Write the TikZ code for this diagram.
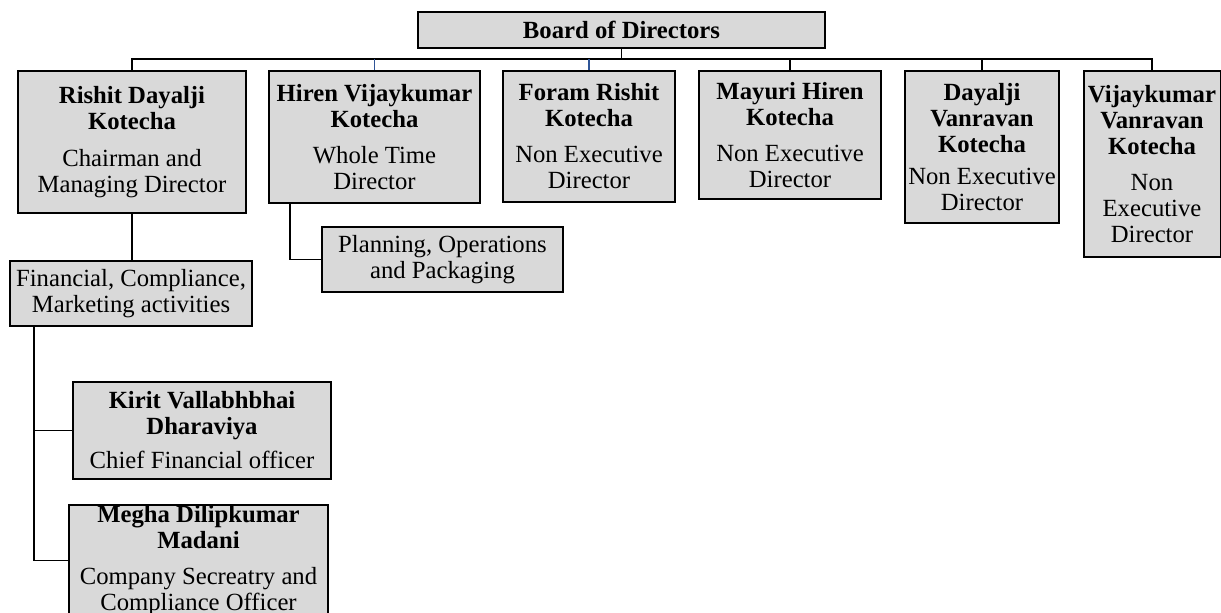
\documentclass[tikz,border=0pt]{standalone}
\usepackage{fontspec}
\setmainfont{Liberation Serif}
\usetikzlibrary{calc}
\definecolor{boxgray}{HTML}{D9D9D9}
\definecolor{linkblue}{HTML}{2F5597}
\newcommand\chartfont{\fontsize{24.7}{26}\selectfont}
\tikzset{
  box/.style={draw=black, line width=2pt, fill=boxgray, inner sep=0pt, align=center, font=\chartfont},
  conn/.style={draw=black, line width=1.8pt},
  blueconn/.style={draw=linkblue, line width=1.6pt}
}
\begin{document}
\begin{tikzpicture}[x=1pt,y=-1pt]
\useasboundingbox (0,0) rectangle (1221,613);
\clip (0,0) rectangle (1221,613);
\coordinate (bus) at (0,59);

\node[box, minimum width=407pt, minimum height=36pt] (board) at (621.5,30) {\textbf{Board of Directors}};

\node[box, minimum width=228pt, minimum height=142pt] (rishit) at (132,142)
  {\textbf{Rishit Dayalji}\\\textbf{Kotecha}\\[11pt]Chairman and\\Managing Director};
\node[box, minimum width=211pt, minimum height=132pt] (hiren) at (374.5,137)
  {\textbf{Hiren Vijaykumar}\\\textbf{Kotecha}\\[10pt]Whole Time\\Director};
\node[box, minimum width=172pt, minimum height=131pt] (foram) at (589,136.5)
  {\textbf{Foram Rishit}\\\textbf{Kotecha}\\[10pt]Non Executive\\Director};
\node[box, minimum width=182pt, minimum height=128pt] (mayuri) at (790,135)
  {\textbf{Mayuri Hiren}\\\textbf{Kotecha}\\[10pt]Non Executive\\Director};
\node[box, minimum width=154pt, minimum height=152pt] (dayalji) at (982,147)
  {\textbf{Dayalji}\\\textbf{Vanravan}\\\textbf{Kotecha}\\[6pt]Non Executive\\Director};
\node[box, minimum width=137pt, minimum height=186pt] (vijay) at (1152,164)
  {\textbf{Vijaykumar}\\\textbf{Vanravan}\\\textbf{Kotecha}\\[10pt]Non\\Executive\\Director};

\node[box, minimum width=241pt, minimum height=65pt] (planning) at (442.5,259.5)
  {Planning, Operations\\and Packaging};
\node[box, minimum width=242pt, minimum height=65pt] (financial) at (131,293.5)
  {Financial, Compliance,\\Marketing activities};
\node[box, minimum width=258pt, minimum height=97pt] (kirit) at (202,430.5)
  {\textbf{Kirit Vallabhbhai}\\\textbf{Dharaviya}\\[8pt]Chief Financial officer};
\node[box, minimum width=259pt, minimum height=111pt] (megha) at (198.5,560.5)
  {\textbf{Megha Dilipkumar}\\\textbf{Madani}\\[10pt]Company Secreatry and\\Compliance Officer};

% bus and drops
\draw[conn] (rishit.north) -- (rishit.north |- bus) -- (vijay.north |- bus) -- (vijay.north);
\draw[conn] (board.south) -- (board.south |- bus);
\draw[blueconn] (hiren.north |- bus) -- (hiren.north);
\draw[blueconn] (foram.north |- bus) -- (foram.north);
\draw[conn] (mayuri.north |- bus) -- (mayuri.north);
\draw[conn] (dayalji.north |- bus) -- (dayalji.north);

% sub units
\draw[conn] (rishit.south) -- (financial.north -| rishit.south);
\draw[conn] ($(hiren.south west)+(22,0)$) |- (planning.west);
\draw[conn] ($(financial.south west)+(25,0)$) |- (kirit.west);
\draw[conn] ($(financial.south west)+(25,0)$) |- (megha.west);
\end{tikzpicture}
\end{document}
